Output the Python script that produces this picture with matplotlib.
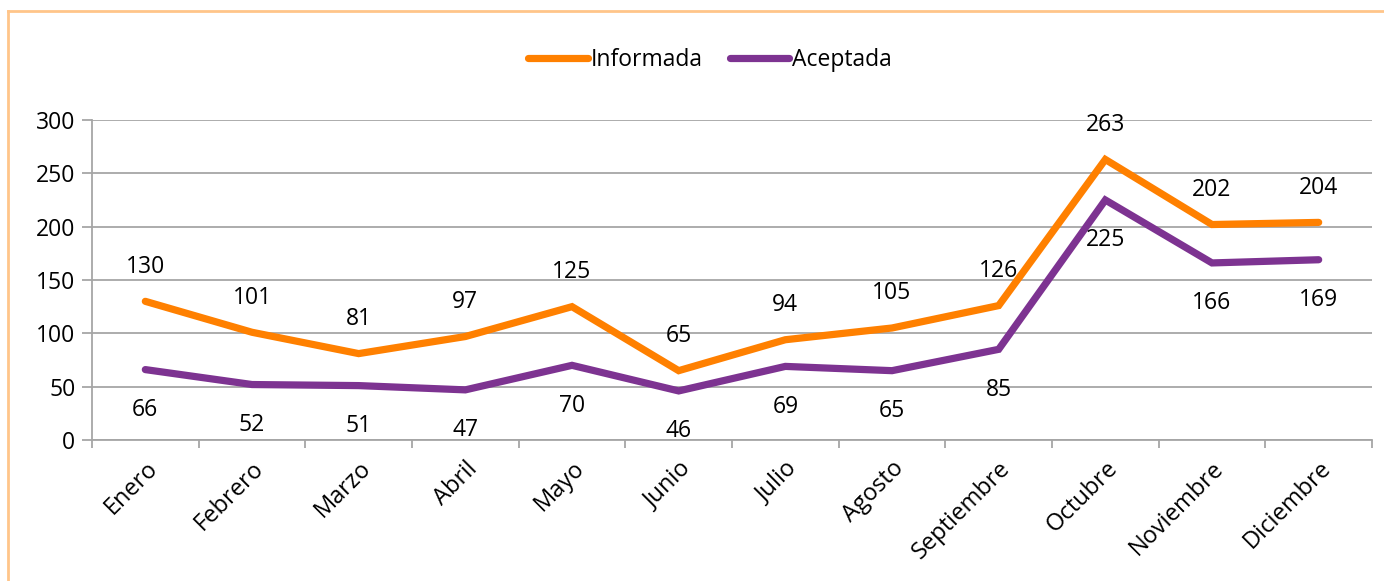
import matplotlib.pyplot as plt
from matplotlib.lines import Line2D

meses = ["Enero", "Febrero", "Marzo", "Abril", "Mayo", "Junio", "Julio",
         "Agosto", "Septiembre", "Octubre", "Noviembre", "Diciembre"]
informada = [130, 101, 81, 97, 125, 65, 94, 105, 126, 263, 202, 204]
aceptada = [66, 52, 51, 47, 70, 46, 69, 65, 85, 225, 166, 169]

naranja = "#FF8000"
morado = "#7D3391"
gris = "#A6A6A6"

plt.rcParams["font.family"] = ["Open Sans", "DejaVu Sans"]

W, H = 1384, 581
fig = plt.figure(figsize=(W / 100, H / 100), dpi=100)
# area del grafico en pixeles
x0, x1, y_top, y_bot = 92, 1372, 120, 440
ax = fig.add_axes([x0 / W, 1 - y_bot / H, (x1 - x0) / W, (y_bot - y_top) / H])

x = list(range(len(meses)))
ax.plot(x, informada, color=naranja, lw=5.2, solid_capstyle="round",
        solid_joinstyle="miter", label="Informada")
ax.plot(x, aceptada, color=morado, lw=5.2, solid_capstyle="round",
        solid_joinstyle="miter", label="Aceptada")

for i, v in enumerate(informada):
    ax.annotate(str(v), (i, v), xytext=(0, 25), textcoords="offset points",
                ha="center", va="center", fontsize=16.5)
for i, v in enumerate(aceptada):
    ax.annotate(str(v), (i, v), xytext=(0, -29), textcoords="offset points",
                ha="center", va="center", fontsize=16.5)

ax.set_xlim(-0.5, len(meses) - 0.5)
ax.set_ylim(0, 300)
ax.set_yticks(range(0, 301, 50))
ax.tick_params(axis="y", labelsize=16.5, length=7, width=1.3, color=gris, pad=5)
ax.grid(axis="y", color=gris, lw=1.3)
ax.set_axisbelow(True)

# marcas entre categorias
ax.set_xticks([i - 0.5 for i in range(len(meses) + 1)])
ax.set_xticklabels([])
ax.tick_params(axis="x", length=6, width=1.3, color=gris)
ax.set_xticks(x, minor=True)
ax.set_xticklabels(meses, minor=True, rotation=45, ha="right",
                   rotation_mode="anchor", fontsize=17)
ax.tick_params(axis="x", which="minor", length=0, pad=12)

for s in ["top", "right"]:
    ax.spines[s].set_visible(False)
for s in ["left", "bottom"]:
    ax.spines[s].set_color(gris)
    ax.spines[s].set_linewidth(1.3)

fig.legend(loc="center", bbox_to_anchor=(710 / W, 1 - 60 / H), ncol=2,
           frameon=False, fontsize=16.5, handlelength=2.6, handletextpad=0.1,
           columnspacing=1.2)

# borde exterior
bx, by = 7.5 / W, 1 - 10.5 / H
fig.add_artist(Line2D([bx, 1.01], [by, by], transform=fig.transFigure,
                      color="#FFC58A", lw=2))
fig.add_artist(Line2D([bx, bx], [by, -0.01], transform=fig.transFigure,
                      color="#FFC58A", lw=2))

fig.savefig("out.png", dpi=100)
